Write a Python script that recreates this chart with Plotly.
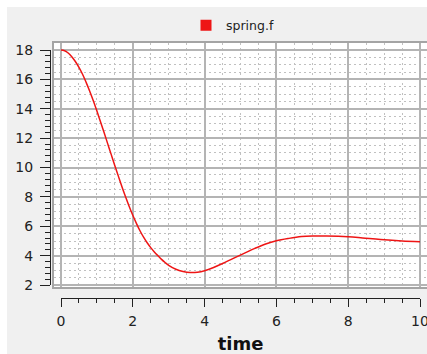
import plotly.graph_objects as go

# ---- data ----
time = [0, 0.1, 0.2, 0.3, 0.4, 0.5, 0.6, 0.7, 0.8, 0.9, 1.0, 1.1, 1.2, 1.3, 1.4,
        1.5, 1.6, 1.7, 1.8, 1.9, 2.0, 2.1, 2.2, 2.3, 2.4, 2.5, 2.6, 2.7, 2.8,
        2.9, 3.0, 3.2, 3.4, 3.6, 3.8, 4.0, 4.25, 4.5, 4.8, 5.1, 5.4, 5.7, 6.0,
        6.35, 6.7, 7.0, 7.4, 8.0, 8.4, 8.9, 9.5, 10.0]
spring_f = [18.0, 17.95, 17.8, 17.55, 17.22, 16.82, 16.35, 15.8, 15.2, 14.55,
            13.85, 13.12, 12.38, 11.63, 10.88, 10.13, 9.4, 8.68, 8.0, 7.35, 6.75,
            6.2, 5.7, 5.26, 4.88, 4.55, 4.26, 4.0, 3.75, 3.54, 3.35, 3.08, 2.93,
            2.86, 2.88, 2.98, 3.2, 3.47, 3.82, 4.16, 4.5, 4.8, 5.02, 5.18, 5.3,
            5.34, 5.34, 5.29, 5.21, 5.1, 5.0, 4.95]
series_name = "spring.f"
x_title = "time"
x_ticks = [0, 2, 4, 6, 8, 10]
y_ticks = [2, 4, 6, 8, 10, 12, 14, 16, 18]

W, H = 427, 354
def px(x):
    return x / W
def py(y):
    return 1 - y / H

RED = "#ee1515"
FONT = "DejaVu Sans"

fig = go.Figure()
fig.add_trace(go.Scatter(x=time, y=spring_f, mode="lines", name=series_name,
                         line=dict(color=RED, width=1.5, shape="spline"),
                         showlegend=False, legendgroup="f",
                         xaxis="x", yaxis="y"))
# legend entry (square swatch)
fig.add_trace(go.Scatter(x=[None], y=[None], mode="markers", name=series_name,
                         marker=dict(symbol="square", size=11, color=RED),
                         legendgroup="f", xaxis="x", yaxis="y"))
# anchor trace for the detached tick axes
fig.add_trace(go.Scatter(x=[x_ticks[0], x_ticks[-1]], y=[y_ticks[0], y_ticks[-1]],
                         mode="markers", marker=dict(opacity=0), showlegend=False,
                         hoverinfo="skip", xaxis="x2", yaxis="y2"))

grid_major = "#b4b4b4"
grid_minor = "#c0c0c0"

fig.update_layout(
    width=W, height=H,
    margin=dict(l=0, r=0, t=0, b=0, autoexpand=False),
    paper_bgcolor="#f0f0f0",
    plot_bgcolor="rgba(0,0,0,0)",
    showlegend=True,
    legend=dict(orientation="h", x=px(186), xanchor="left", y=py(25.5), yanchor="middle",
                font=dict(family=FONT, size=12.5, color="#222"),
                bgcolor="rgba(0,0,0,0)", itemsizing="trace"),
    xaxis=dict(domain=[px(54), 1], range=[-0.195, 10.195], anchor="y",
               automargin=False,
               tick0=0, dtick=2, showticklabels=False, ticks="",
               showgrid=True, gridcolor=grid_major, gridwidth=2, zeroline=False,
               showline=True, mirror=True, linecolor="#a4a4a4", linewidth=2,
               minor=dict(dtick=0.5, showgrid=True, gridcolor=grid_minor,
                          gridwidth=1, griddash="2px,3px")),
    yaxis=dict(domain=[py(287), py(43)], range=[1.87, 18.48], anchor="x",
               automargin=False,
               tick0=0, dtick=2, showticklabels=False, ticks="",
               showgrid=True, gridcolor=grid_major, gridwidth=2, zeroline=False,
               showline=True, mirror=True, linecolor="#a4a4a4", linewidth=2,
               minor=dict(dtick=0.5, showgrid=True, gridcolor=grid_minor,
                          gridwidth=1, griddash="2px,3px")),
    xaxis2=dict(domain=[px(61), px(420)], range=[x_ticks[0], x_ticks[-1]],
                anchor="free", position=py(297.5), side="bottom",
                automargin=False, ticklabeloverflow="allow",
                tickvals=x_ticks, ticks="outside", ticklen=8, tickwidth=1.2,
                tickcolor="#222", showline=True, linecolor="#222", linewidth=1.2,
                showgrid=False, zeroline=False,
                tickfont=dict(family=FONT, size=14, color="#222"),
                ticklabelstandoff=3,
                minor=dict(dtick=0.5, ticks="outside", ticklen=4, tickwidth=1.2,
                           tickcolor="#222", showgrid=False),
                title=dict(text="<b>" + x_title + "</b>", standoff=13,
                           font=dict(family=FONT, size=18, color="#111"))),
    yaxis2=dict(domain=[py(285.1), py(50.05)], range=[y_ticks[0], y_ticks[-1]],
                anchor="free", position=px(50), side="left",
                automargin=False, ticklabeloverflow="allow",
                tickvals=y_ticks, ticks="outside", ticklen=10, tickwidth=1.2,
                tickcolor="#222", showline=True, linecolor="#222", linewidth=1.2,
                showgrid=False, zeroline=False,
                tickfont=dict(family=FONT, size=14, color="#222"),
                ticklabelstandoff=4,
                minor=dict(dtick=0.4, ticks="outside", ticklen=5, tickwidth=1.2,
                           tickcolor="#222", showgrid=False)),
    shapes=[
        dict(type="rect", xref="paper", yref="paper", x0=0, x1=1, y0=py(7), y1=1,
             fillcolor="white", line=dict(width=0), layer="below"),
        dict(type="rect", xref="paper", yref="paper", x0=0, x1=px(7), y0=0, y1=1,
             fillcolor="white", line=dict(width=0), layer="below"),
        dict(type="rect", xref="paper", yref="paper", x0=px(54), x1=1,
             y0=py(287), y1=py(43), fillcolor="white", line=dict(width=0),
             layer="below"),
    ],
)

fig.write_html("out.html", config={"displayModeBar": False},
               post_script="document.body.style.margin='0';"
                           "document.body.style.overflow='hidden';")
